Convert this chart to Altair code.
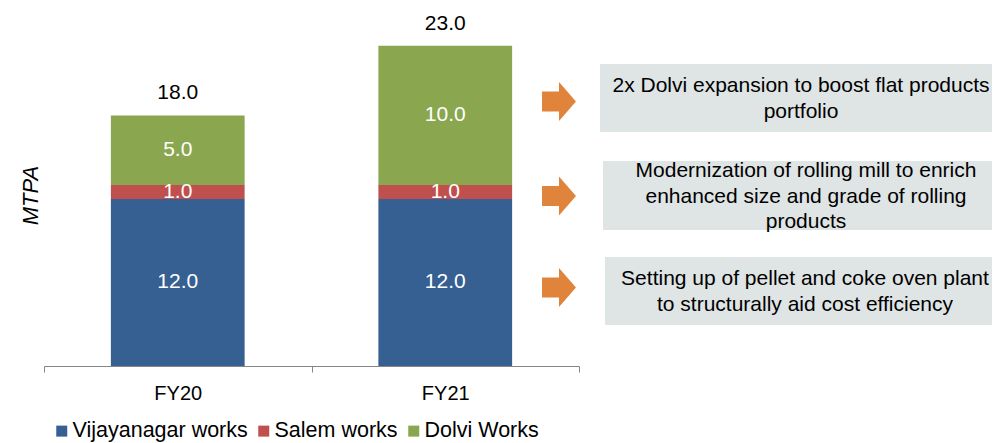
import altair as alt
import pandas as pd

# ---- data ----
years = ["FY20", "FY21"]
series = ["Vijayanagar works", "Salem works", "Dolvi Works"]
vijayanagar = [12.0, 12.0]
salem = [1.0, 1.0]
dolvi = [5.0, 10.0]
totals = [18.0, 23.0]
notes = [
    ["2x Dolvi expansion to boost flat products", "portfolio"],
    ["Modernization of rolling mill to enrich", "enhanced size and grade of rolling", "products"],
    ["Setting up of pellet and coke oven plant", "to structurally aid cost efficiency"],
]
colors = ["#366092", "#c0504d", "#8aa64f"]

# ---- tables built from the arrays ----
rows = []
for i, yr in enumerate(years):
    base = 0.0
    for k, (s, vals) in enumerate(zip(series, [vijayanagar, salem, dolvi])):
        v = vals[i]
        rows.append({"year": yr, "series": s, "order": k, "value": v,
                     "mid": base + v / 2, "label": f"{v:.1f}"})
        base += v
df = pd.DataFrame(rows)
tot = pd.DataFrame({"year": years, "total": totals,
                    "label": [f"{t:.1f}" for t in totals]})

FONT = "Liberation Sans"
W, H = 948, 348

x_enc = alt.X(
    "year:N", sort=years,
    scale=alt.Scale(domain=years, range=[0, 535], paddingInner=0, paddingOuter=0),
    axis=alt.Axis(title=None, labelAngle=0, labelFontSize=20, labelColor="black",
                  domainColor="#868686", tickColor="#868686", tickSize=6,
                  tickBand="extent", labelPadding=11, grid=False),
)
y_axis = alt.Axis(title="MTPA", labels=False, ticks=False, domain=False, grid=False,
                  titleFontStyle="italic", titleFontSize=22, titleFontWeight="normal",
                  titleColor="black", titleAngle=270, titleX=-14, titleY=177,
                  titleAlign="center", titleBaseline="middle")

bars = alt.Chart(df).mark_bar(width=alt.RelativeBandSize(0.5)).encode(
    x=x_enc,
    y=alt.Y("value:Q", stack="zero", scale=alt.Scale(domain=[0, 25], nice=False), axis=y_axis),
    color=alt.Color("series:N", sort=series,
                    scale=alt.Scale(domain=series, range=colors),
                    legend=alt.Legend(title=None, orient="none", direction="horizontal",
                                      legendX=7, legendY=402, symbolType="square",
                                      symbolSize=121, symbolStrokeWidth=0,
                                      labelFontSize=21.5, labelColor="black",
                                      labelOffset=0, columnPadding=5, padding=0,
                                      labelLimit=400)),
    order=alt.Order("order:Q", sort="ascending"),
)

seg_labels = alt.Chart(df).mark_text(color="white", fontSize=21, baseline="middle").encode(
    x=alt.X("year:N", sort=years),
    y=alt.Y("mid:Q"),
    text="label:N",
)

tot_labels = alt.Chart(tot).mark_text(color="black", fontSize=21, baseline="alphabetic", dy=-16).encode(
    x=alt.X("year:N", sort=years),
    y=alt.Y("total:Q"),
    text="label:N",
)

one = pd.DataFrame({"k": [0]})
boxes_px = [(556, 46, 114), (559, 143, 212), (561, 239, 307)]
arrow_y = [83.5, 178, 269.5]
first_line_y = [68, 153, 261]
text_x = [757, 762, 761]
arrow_path = "M-0.87,-0.51 L0,-0.51 L0,-1 L0.87,0 L0,1 L0,0.51 L-0.87,0.51 Z"

ann = []
for (bx, by1, by2), ay, ty, tx, lines in zip(boxes_px, arrow_y, first_line_y, text_x, notes):
    ann.append(alt.Chart(one).mark_rect(color="#dfe4e4").encode(
        x=alt.value(bx), x2=alt.value(970), y=alt.value(by1), y2=alt.value(by2)))
    ann.append(alt.Chart(one).mark_point(shape=arrow_path, filled=True, color="#e0843c",
                                         size=1521, opacity=1, strokeWidth=0).encode(
        x=alt.value(515), y=alt.value(ay)))
    ann.append(alt.Chart(one).mark_text(fontSize=21, color="black", align="center",
                                        baseline="middle", lineHeight=25.5).encode(
        x=alt.value(tx), y=alt.value(ty), text=alt.value(lines)))

chart = alt.layer(bars, seg_labels, tot_labels, *ann).properties(
    width=W, height=H,
    autosize=alt.AutoSizeParams(type="none"),
    padding={"left": 36, "top": 10, "right": 0, "bottom": 77},
).configure(font=FONT).configure_view(stroke=None)

chart.save("out.html", embed_options={"renderer": "svg", "actions": False})
